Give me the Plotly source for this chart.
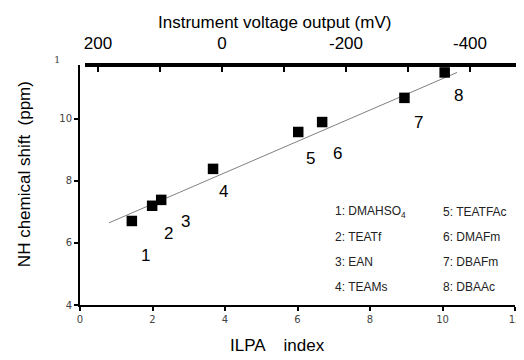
import plotly.graph_objects as go

# Data (ILPA index vs NH chemical shift)
ilpa_index = [1.43, 1.99, 2.24, 3.67, 6.02, 6.68, 8.95, 10.06]
nh_shift = [6.71, 7.20, 7.39, 8.39, 9.58, 9.90, 10.68, 11.50]
point_ids = ["1", "2", "3", "4", "5", "6", "7", "8"]
label_x = [1.80, 2.43, 2.90, 3.95, 6.35, 7.10, 9.34, 10.44]
label_y = [5.60, 6.32, 6.70, 7.65, 8.74, 8.90, 9.87, 10.77]

fit_x = [0.8, 10.4]
fit_y = [6.65, 11.50]

names_left = ["1: DMAHSO<sub>4</sub>", "2: TEATf", "3: EAN", "4: TEAMs"]
names_right = ["5: TEATFAc", "6: DMAFm", "7: DBAFm", "8: DBAAc"]

bottom_ticks = [0, 2, 4, 6, 8, 10, 12]
left_ticks = [4, 6, 8, 10]
top_tickvals = [200, 0, -200, -400]
top_ticktext = ["200", "0", "-200", "-400"]

fig = go.Figure()
fig.add_trace(go.Scatter(x=fit_x, y=fit_y, mode="lines",
                         line=dict(color="#808080", width=1), showlegend=False))
fig.add_trace(go.Scatter(x=ilpa_index, y=nh_shift, mode="markers",
                         marker=dict(symbol="square", size=10.5, color="black"),
                         showlegend=False))
# invisible trace for the top axis
fig.add_trace(go.Scatter(x=[0], y=[5], xaxis="x2", mode="markers",
                         marker=dict(opacity=0), showlegend=False, hoverinfo="skip"))

tickfont = dict(family="DejaVu Sans", size=10, color="#444")
fig.update_layout(
    width=516, height=352,
    margin=dict(l=72, r=9, t=57, b=55, autoexpand=False),
    plot_bgcolor="white", paper_bgcolor="white",
    xaxis=dict(range=[0, 12], tickvals=bottom_ticks, showgrid=False, zeroline=False,
               showline=True, linecolor="black", linewidth=2, automargin=False,
               ticks="outside", ticklen=4, tickwidth=1.5, tickcolor="black",
               ticklabeloverflow="allow", tickfont=tickfont),
    yaxis=dict(range=[4, 11.74], tickvals=left_ticks, showgrid=False, zeroline=False,
               showline=True, linecolor="black", linewidth=2, automargin=False,
               ticks="outside", ticklen=4, tickwidth=1.5, tickcolor="black",
               tickfont=tickfont),
    xaxis2=dict(overlaying="x", side="top", range=[229.0, -472.6],
                tickvals=top_tickvals, ticktext=top_ticktext, automargin=False,
                showgrid=False, zeroline=False, showline=False,
                ticks="inside", ticklen=7, tickwidth=1.5, tickcolor="black",
                ticklabelstandoff=12,
                minor=dict(dtick=100, tick0=0, ticks="inside", ticklen=7,
                           tickwidth=1.5, tickcolor="black"),
                tickfont=dict(family="Liberation Sans", size=17, color="black")),
)

fig.add_shape(type="line", xref="paper", yref="paper", x0=0.0115, x1=1.011, y0=1, y1=1,
              line=dict(color="black", width=4))

C = dict(xanchor="center", yanchor="middle", showarrow=False)
ann = []
for t, x, y in zip(point_ids, label_x, label_y):
    ann.append(dict(x=x, y=y, xref="x", yref="y", text=t, **C,
                    font=dict(family="Liberation Sans", size=17, color="black")))

rows_y = [0.3875, 0.283, 0.179, 0.075]
for t, y in zip(names_left, rows_y):
    ann.append(dict(x=0.582, y=y, xref="paper", yref="paper", text=t, showarrow=False,
                    xanchor="left", yanchor="middle",
                    font=dict(family="Liberation Sans", size=12, color="#222")))
for t, y in zip(names_right, rows_y):
    ann.append(dict(x=0.83, y=y, xref="paper", yref="paper", text=t, showarrow=False,
                    xanchor="left", yanchor="middle",
                    font=dict(family="Liberation Sans", size=12, color="#222")))

ann.append(dict(x=0.447, y=1.179, xref="paper", yref="paper",
                text="Instrument voltage output (mV)", **C,
                font=dict(family="Liberation Sans", size=17, color="black")))
ann.append(dict(x=0.453, y=-0.167, xref="paper", yref="paper",
                text="ILPA    index", **C,
                font=dict(family="Liberation Sans", size=17, color="black")))
ann.append(dict(x=-0.126, y=0.546, xref="paper", yref="paper",
                text="NH chemical shift  (ppm)", textangle=-90, **C,
                font=dict(family="Liberation Sans", size=17, color="black")))
ann.append(dict(x=-0.053, y=1.025, xref="paper", yref="paper", text="1", **C,
                font=dict(family="DejaVu Serif", size=10, color="#444")))
fig.update_layout(annotations=ann)

fig.write_html("out.html")
